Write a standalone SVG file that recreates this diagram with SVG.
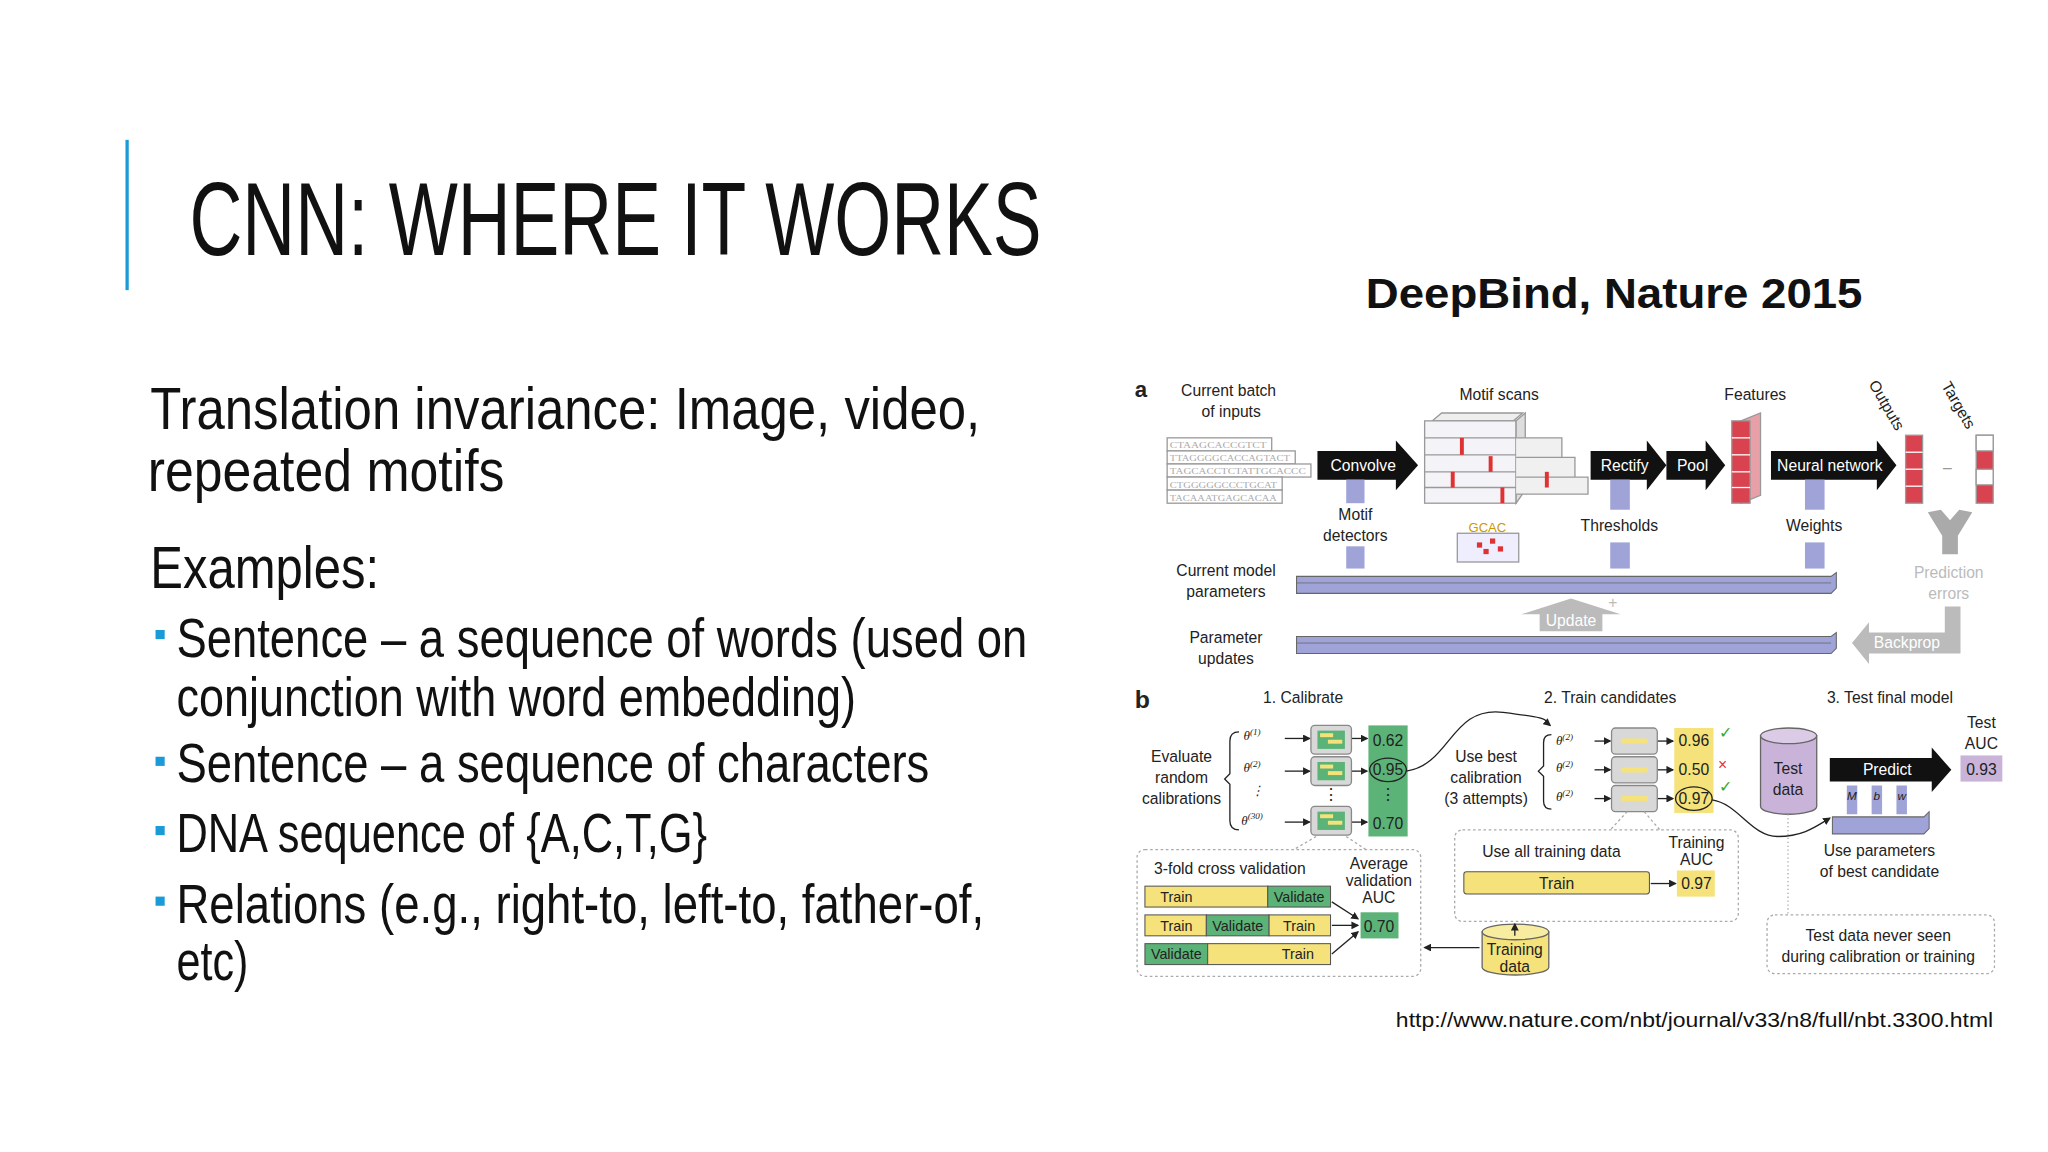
<svg xmlns="http://www.w3.org/2000/svg" width="2048" height="1152" viewBox="0 0 2048 1152">
<defs>
<style>
.f{font-family:"Liberation Sans",Arial,sans-serif;fill:#222;font-size:12px;text-anchor:middle}
.n{font-family:"Liberation Sans Narrow","Liberation Sans",sans-serif;fill:#111}
.w{fill:#fff}
.g{fill:#bbb}
.lav{fill:#9fa3d8}
.blk{fill:#111}
.box{fill:#d8d8d8;stroke:#888;stroke-width:1}
.yel{fill:#f5e27a}
.grn{fill:#5cb377}
.dash{fill:none;stroke:#aaa;stroke-dasharray:2 2}
.ln{stroke:#222;stroke-width:1;fill:none}
.bul{fill:#1a9bd7}
</style>
<marker id="ah" markerWidth="6" markerHeight="6" refX="5" refY="3" orient="auto"><path d="M0,0L6,3L0,6z" fill="#222"/></marker>
</defs>
<rect width="2048" height="1152" fill="#fff"/>
<g transform="scale(1.307)">
<g id="title">
<rect x="96" y="107" width="2.5" height="115" fill="#1a9bd7"/>
<text class="n" x="145" y="195" font-size="80" textLength="652" lengthAdjust="spacingAndGlyphs">CNN: WHERE IT WORKS</text>
</g>
<g id="caption"><text x="1045" y="236" font-family="Liberation Sans,sans-serif" font-weight="bold" font-size="32" fill="#111" textLength="380" lengthAdjust="spacingAndGlyphs">DeepBind, Nature 2015</text></g>
<g id="body" class="n" font-size="46">
<text x="115" y="328" textLength="635" lengthAdjust="spacingAndGlyphs">Translation invariance: Image, video,</text>
<text x="113" y="376" textLength="273" lengthAdjust="spacingAndGlyphs">repeated motifs</text>
<text x="115" y="450" textLength="175" lengthAdjust="spacingAndGlyphs">Examples:</text>
<rect class="bul" x="119" y="482" width="7" height="7"/>
<text x="135" y="503" font-size="42" textLength="651" lengthAdjust="spacingAndGlyphs">Sentence – a sequence of words (used on</text>
<text x="135" y="548" font-size="42" textLength="520" lengthAdjust="spacingAndGlyphs">conjunction with word embedding)</text>
<rect class="bul" x="119" y="579" width="7" height="7"/>
<text x="135" y="598" font-size="42" textLength="576" lengthAdjust="spacingAndGlyphs">Sentence – a sequence of characters</text>
<rect class="bul" x="119" y="632" width="7" height="7"/>
<text x="135" y="652" font-size="42" textLength="406" lengthAdjust="spacingAndGlyphs">DNA sequence of {A,C,T,G}</text>
<rect class="bul" x="119" y="686" width="7" height="7"/>
<text x="135" y="706" font-size="42" textLength="618" lengthAdjust="spacingAndGlyphs">Relations (e.g., right-to, left-to, father-of,</text>
<text x="135" y="750" font-size="42" textLength="55" lengthAdjust="spacingAndGlyphs">etc)</text>
</g>
<g id="url"><text x="1068" y="786" font-family="Liberation Sans,sans-serif" font-size="15" fill="#111" textLength="457" lengthAdjust="spacingAndGlyphs">http://www.nature.com/nbt/journal/v33/n8/full/nbt.3300.html</text></g>

<g id="panel-a" class="f">
<text x="873" y="304" font-size="17" font-weight="bold">a</text>
<text x="940" y="303">Current batch</text><text x="942" y="319">of inputs</text>
<g id="inputs" font-family="Liberation Serif,serif" font-size="6.5" fill="#aaa" text-anchor="start">
<rect x="893" y="335" width="80" height="10" fill="#fff" stroke="#999"/><text x="895" y="343" textLength="74" lengthAdjust="spacingAndGlyphs">CTAAGCACCGTCT</text>
<rect x="893" y="345" width="98" height="10" fill="#fff" stroke="#999"/><text x="895" y="353" textLength="92" lengthAdjust="spacingAndGlyphs">TTAGGGGCACCAGTACT</text>
<rect x="893" y="355" width="110" height="10" fill="#fff" stroke="#999"/><text x="895" y="363" textLength="104" lengthAdjust="spacingAndGlyphs">TAGCACCTCTATTGCACCC</text>
<rect x="893" y="365" width="88" height="10" fill="#fff" stroke="#999"/><text x="895" y="373" textLength="82" lengthAdjust="spacingAndGlyphs">CTGGGGGCCCTGCAT</text>
<rect x="893" y="375" width="88" height="10" fill="#fff" stroke="#999"/><text x="895" y="383" textLength="82" lengthAdjust="spacingAndGlyphs">TACAAATGAGCACAA</text>
</g>
<path class="blk" d="M1008,345H1068V337L1085,356L1068,375V367H1008z"/><text class="w" x="1043" y="360">Convolve</text>
<rect class="lav" x="1030" y="367" width="14" height="18"/>
<text x="1037" y="398">Motif</text><text x="1037" y="414">detectors</text>
<text x="1147" y="306">Motif scans</text>
<g id="scans">
<path d="M1096,322L1103,316H1165L1158,322z" fill="#eee" stroke="#999"/>
<rect x="1090" y="322" width="70" height="63" fill="#f4f4f8" stroke="#999"/>
<path d="M1160,322L1167,316V375L1160,385z" fill="#ddd" stroke="#999"/>
<path d="M1160,335H1195V350H1160M1160,350H1205V365H1160M1160,365H1215V378H1160" fill="#f0f0f0" stroke="#999"/>
<line x1="1090" y1="335" x2="1160" y2="335" stroke="#999"/><line x1="1090" y1="348" x2="1160" y2="348" stroke="#999"/><line x1="1090" y1="361" x2="1160" y2="361" stroke="#999"/><line x1="1090" y1="373" x2="1160" y2="373" stroke="#999"/>
<rect x="1117" y="335" width="3" height="13" fill="#d33"/><rect x="1139" y="349" width="3" height="12" fill="#d33"/><rect x="1110" y="361" width="3" height="12" fill="#d33"/><rect x="1148" y="373" width="3" height="12" fill="#d33"/><rect x="1182" y="361" width="3" height="12" fill="#d33"/>
</g>
<path class="blk" d="M1217,345H1260V337L1275,356L1260,375V367H1217z"/><text class="w" x="1243" y="360">Rectify</text>
<path class="blk" d="M1275,345H1305V337L1320,356L1305,375V367H1275z"/><text class="w" x="1295" y="360">Pool</text>
<rect class="lav" x="1232" y="367" width="15" height="23"/>
<text x="1239" y="406">Thresholds</text>
<text x="1343" y="306">Features</text>
<g id="features">
<path d="M1332,322L1347,316V379L1332,385z" fill="#e8a0a8" stroke="#999"/>
<rect x="1325" y="322" width="14" height="63" fill="#d9424f" stroke="#999"/>
<line x1="1325" y1="335" x2="1339" y2="335" stroke="#fff"/><line x1="1325" y1="348" x2="1339" y2="348" stroke="#fff"/><line x1="1325" y1="361" x2="1339" y2="361" stroke="#fff"/><line x1="1325" y1="373" x2="1339" y2="373" stroke="#fff"/>
</g>
<path class="blk" d="M1355,345H1436V337L1451,356L1436,375V367H1355z"/><text class="w" x="1400" y="360">Neural network</text>
<rect class="lav" x="1381" y="367" width="15" height="23"/>
<text x="1388" y="406">Weights</text>
<g id="outputs">
<rect x="1458" y="333" width="13" height="52" fill="#d9424f" stroke="#999"/>
<line x1="1458" y1="346" x2="1471" y2="346" stroke="#fff"/><line x1="1458" y1="359" x2="1471" y2="359" stroke="#fff"/><line x1="1458" y1="372" x2="1471" y2="372" stroke="#fff"/>
<rect x="1512" y="333" width="13" height="52" fill="#d9424f" stroke="#999"/>
<rect x="1512" y="333" width="13" height="12" fill="#fff" stroke="#999"/><rect x="1512" y="359" width="13" height="12" fill="#fff" stroke="#999"/>
</g>
<text transform="translate(1440,312) rotate(60)">Outputs</text>
<text transform="translate(1495,312) rotate(60)">Targets</text>
<text x="1490" y="362" fill="#999">–</text>
<path d="M1475,392L1485,390L1492,398L1499,390L1509,392L1498,410V424H1486V410z" fill="#aaa"/>
<text class="g" x="1491" y="442">Prediction</text><text class="g" x="1491" y="458">errors</text>
<rect class="lav" x="1030" y="418" width="14" height="17"/><rect class="lav" x="1232" y="415" width="15" height="20"/><rect class="lav" x="1381" y="415" width="15" height="20"/>
<rect x="1115" y="408" width="47" height="22" fill="#eef" stroke="#999"/>
<rect x="1130" y="415" width="4" height="4" fill="#d33"/><rect x="1140" y="412" width="4" height="4" fill="#d33"/><rect x="1135" y="420" width="4" height="4" fill="#d33"/><rect x="1146" y="418" width="4" height="4" fill="#d33"/>
<text x="1138" y="407" font-size="10" fill="#c90">GCAC</text>
<text x="938" y="441">Current model</text><text x="938" y="457">parameters</text>
<path d="M992,441H1401L1405,438V450L1401,454H992z" fill="#9fa3d8" stroke="#666" stroke-width="0.8"/>
<line x1="992" y1="446" x2="1401" y2="446" stroke="#666" stroke-width="0.6"/>
<path d="M1164,470L1202,458L1240,470H1226V483H1178V470z" fill="#bbb"/><text class="w" x="1202" y="479">Update</text><text class="g" x="1234" y="465">+</text>
<text x="938" y="492">Parameter</text><text x="938" y="508">updates</text>
<path d="M992,487H1401L1405,484V496L1401,500H992z" fill="#9fa3d8" stroke="#666" stroke-width="0.8"/>
<line x1="992" y1="492" x2="1401" y2="492" stroke="#666" stroke-width="0.6"/>
<path d="M1488,464H1500V500H1430V508L1417,492L1430,476V484H1488z" fill="#bbb"/><text class="w" x="1459" y="496">Backprop</text>
</g>

<g id="panel-b" class="f">
<text x="874" y="542" font-size="19" font-weight="bold">b</text>
<text x="997" y="538">1. Calibrate</text><text x="1232" y="538">2. Train candidates</text><text x="1446" y="538">3. Test final model</text>
<text x="904" y="583">Evaluate</text><text x="904" y="599">random</text><text x="904" y="615">calibrations</text>
<path class="ln" d="M948,560Q941,560 941,567V592L937,596L941,600V628Q941,635 948,635"/>
<g font-family="Liberation Serif,serif" font-style="italic" font-size="10">
<text x="958" y="566">θ<tspan font-size="7" dy="-4">(1)</tspan></text>
<text x="958" y="591">θ<tspan font-size="7" dy="-4">(2)</tspan></text>
<text x="962" y="608">⋮</text>
<text x="958" y="631">θ<tspan font-size="7" dy="-4">(30)</tspan></text>
</g>
<g class="ln" marker-end="url(#ah)"><line x1="983" y1="565" x2="1002" y2="565"/><line x1="983" y1="590" x2="1002" y2="590"/><line x1="983" y1="629" x2="1002" y2="629"/>
<line x1="1034" y1="565" x2="1046" y2="565"/><line x1="1034" y1="590" x2="1046" y2="590"/><line x1="1034" y1="629" x2="1046" y2="629"/></g>
<g id="cal-boxes">
<rect class="box" x="1003" y="555" width="31" height="22" rx="3"/><rect class="box" x="1003" y="579" width="31" height="22" rx="3"/><rect class="box" x="1003" y="617" width="31" height="22" rx="3"/>
<rect class="grn" x="1008" y="559" width="21" height="14"/><rect class="yel" x="1010" y="561" width="10" height="3"/><rect class="yel" x="1016" y="566" width="11" height="3"/>
<rect class="grn" x="1008" y="583" width="21" height="14"/><rect class="yel" x="1010" y="585" width="10" height="3"/><rect class="yel" x="1016" y="590" width="11" height="3"/>
<rect class="grn" x="1008" y="621" width="21" height="14"/><rect class="yel" x="1010" y="623" width="10" height="3"/><rect class="yel" x="1016" y="628" width="11" height="3"/>
<text x="1018" y="612">⋮</text>
</g>
<rect class="grn" x="1047" y="555" width="30" height="85"/>
<text x="1062" y="571">0.62</text><text x="1062" y="593">0.95</text><text x="1062" y="612">⋮</text><text x="1062" y="634">0.70</text>
<ellipse class="ln" cx="1062" cy="589" rx="14" ry="9" stroke-width="1.5"/>
<path class="ln" d="M1076,590C1110,585 1110,540 1150,545S1180,550 1186,555" marker-end="url(#ah)" stroke-width="1.3"/>
<text x="1137" y="583">Use best</text><text x="1137" y="599">calibration</text><text x="1137" y="615">(3 attempts)</text>
<path class="ln" d="M1187,562Q1181,562 1181,568V586L1177,590L1181,594V613Q1181,619 1187,619"/>
<g font-family="Liberation Serif,serif" font-style="italic" font-size="10">
<text x="1197" y="570">θ<tspan font-size="7" dy="-4">(2)</tspan></text><text x="1197" y="591">θ<tspan font-size="7" dy="-4">(2)</tspan></text><text x="1197" y="613">θ<tspan font-size="7" dy="-4">(2)</tspan></text>
</g>
<g class="ln" marker-end="url(#ah)"><line x1="1220" y1="567" x2="1232" y2="567"/><line x1="1220" y1="589" x2="1232" y2="589"/><line x1="1220" y1="611" x2="1232" y2="611"/>
<line x1="1268" y1="567" x2="1280" y2="567"/><line x1="1268" y1="589" x2="1280" y2="589"/><line x1="1268" y1="611" x2="1280" y2="611"/></g>
<rect class="box" x="1233" y="557" width="35" height="20" rx="3"/><rect class="box" x="1233" y="579" width="35" height="20" rx="3"/><rect class="box" x="1233" y="601" width="35" height="20" rx="3"/>
<rect class="yel" x="1240" y="565" width="21" height="4" rx="2"/><rect class="yel" x="1240" y="587" width="21" height="4" rx="2"/><rect class="yel" x="1240" y="609" width="21" height="4" rx="2"/>
<rect class="yel" x="1281" y="557" width="30" height="65"/>
<text x="1296" y="571">0.96</text><text x="1296" y="593">0.50</text><text x="1296" y="615">0.97</text>
<ellipse class="ln" cx="1296" cy="611" rx="14" ry="9" stroke-width="1.5"/>
<text x="1320" y="565" fill="#3a3">✓</text><text x="1318" y="589" fill="#d33">×</text><text x="1320" y="606" fill="#3a3">✓</text>
<path class="ln" d="M1310,612C1330,615 1340,640 1360,640S1390,632 1400,626" marker-end="url(#ah)" stroke-width="1.3"/>
<g id="test-data">
<path d="M1347,563V617A21.5,6 0 0 0 1390,617V563z" fill="#c9b3d9" stroke="#666"/>
<ellipse cx="1368.5" cy="563" rx="21.5" ry="6" fill="#dccbe6" stroke="#666"/>
<text x="1368" y="592">Test</text><text x="1368" y="608">data</text>
</g>
<path class="blk" d="M1400,580H1478V572L1493,589L1478,606V598H1400z"/><text class="w" x="1444" y="593">Predict</text>
<text x="1516" y="557">Test</text><text x="1516" y="573">AUC</text>
<rect x="1500" y="578" width="32" height="20" fill="#c9b3d9"/><text x="1516" y="593">0.93</text>
<rect class="lav" x="1413" y="601" width="8" height="22"/><rect class="lav" x="1432" y="601" width="8" height="22"/><rect class="lav" x="1451" y="601" width="8" height="22"/>
<text x="1417" y="612" font-size="9" font-style="italic">M</text><text x="1436" y="612" font-size="9" font-style="italic">b</text><text x="1455" y="612" font-size="9" font-style="italic">w</text>
<path d="M1402,625H1472L1476,621V634L1472,638H1402z" fill="#9fa3d8" stroke="#666" stroke-width="0.8"/>
<text x="1438" y="655">Use parameters</text><text x="1438" y="671">of best candidate</text>
<line x1="1368" y1="623" x2="1368" y2="700" stroke="#aaa" stroke-dasharray="1 2"/>
<rect class="dash" x="1352" y="700" width="174" height="45" rx="6"/>
<text x="1437" y="720">Test data never seen</text><text x="1437" y="736">during calibration or training</text>
<g id="cv">
<rect class="dash" x="870" y="650" width="217" height="97" rx="6"/>
<path class="dash" d="M1007,640L990,650M1030,640L1045,650M1245,621L1232,635M1258,621L1270,635"/>
<text x="941" y="669">3-fold cross validation</text>
<text x="1055" y="665">Average</text><text x="1055" y="678">validation</text><text x="1055" y="691">AUC</text>
<g font-size="11">
<rect class="yel" x="876" y="678" width="94" height="16" stroke="#555" stroke-width="0.8"/><rect class="grn" x="970" y="678" width="48" height="16" stroke="#555" stroke-width="0.8"/>
<text x="900" y="690">Train</text><text x="994" y="690">Validate</text>
<rect class="yel" x="876" y="700" width="47" height="16" stroke="#555" stroke-width="0.8"/><rect class="grn" x="923" y="700" width="48" height="16" stroke="#555" stroke-width="0.8"/><rect class="yel" x="971" y="700" width="47" height="16" stroke="#555" stroke-width="0.8"/>
<text x="900" y="712">Train</text><text x="947" y="712">Validate</text><text x="994" y="712">Train</text>
<rect class="grn" x="876" y="722" width="48" height="16" stroke="#555" stroke-width="0.8"/><rect class="yel" x="924" y="722" width="94" height="16" stroke="#555" stroke-width="0.8"/>
<text x="900" y="734">Validate</text><text x="993" y="734">Train</text>
</g>
<g class="ln" marker-end="url(#ah)"><line x1="1019" y1="690" x2="1039" y2="703"/><line x1="1019" y1="708" x2="1039" y2="708"/><line x1="1019" y1="730" x2="1039" y2="713"/></g>
<rect class="grn" x="1041" y="698" width="29" height="20"/><text x="1055" y="713">0.70</text>
</g>
<g id="train-all">
<rect class="dash" x="1113" y="635" width="217" height="70" rx="6"/>
<text x="1187" y="656">Use all training data</text>
<text x="1298" y="649">Training</text><text x="1298" y="662">AUC</text>
<rect class="yel" x="1120" y="667" width="142" height="17" rx="2" stroke="#555" stroke-width="0.8"/><text x="1191" y="680">Train</text>
<line class="ln" x1="1263" y1="676" x2="1282" y2="676" marker-end="url(#ah)"/>
<rect class="yel" x="1283" y="666" width="29" height="20"/><text x="1298" y="680">0.97</text>
</g>
<g id="training-data">
<path d="M1134,713V740A25.5,6 0 0 0 1185,740V713z" fill="#f5e27a" stroke="#666"/>
<ellipse cx="1159.5" cy="713" rx="25.5" ry="6" fill="#f8eca0" stroke="#666"/>
<text x="1159" y="731">Training</text><text x="1159" y="744">data</text>
</g>
<g class="ln" marker-end="url(#ah)" stroke-width="1.5"><line x1="1159" y1="716" x2="1159" y2="707"/><line x1="1132" y1="725" x2="1090" y2="725"/></g>
</g>
</g>
</svg>
